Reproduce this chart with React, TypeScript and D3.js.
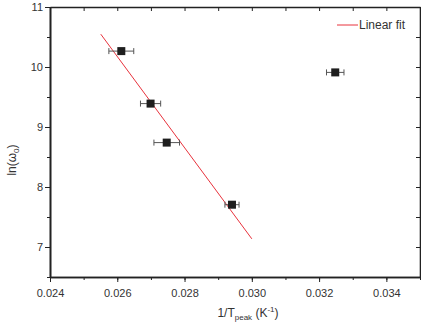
import React, { useEffect, useRef } from "react";
import * as d3 from "d3";

// measured points: 1/Tpeak, ln(omega0), x error
const invT = [0.02612, 0.02699, 0.02747, 0.02941, 0.03248];
const lnOmega = [10.265, 9.39, 8.74, 7.705, 9.91];
const xErr = [0.00037, 0.0003, 0.00038, 0.00021, 0.00026];

// linear fit segment ends
const fitX = [0.02551, 0.0300];
const fitY = [10.547, 7.136];

const xTicks = [0.024, 0.026, 0.028, 0.03, 0.032, 0.034];
const yTicks = [7, 8, 9, 10, 11];

const W = 421;
const H = 322;
const margin = { top: 7, right: 1, bottom: 45, left: 50 };

const App = () => {
  const svgRef = useRef<SVGSVGElement>(null);

  useEffect(() => {
    const svg = d3.select(svgRef.current);
    svg.selectAll("*").remove();
    const font = "'Liberation Sans', Arial, sans-serif";

    const x = d3.scaleLinear().domain([0.024, 0.035]).range([margin.left, W - margin.right]);
    const y = d3.scaleLinear().domain([6.5, 11]).range([H - margin.bottom, margin.top]);
    const x0 = x.range()[0], x1 = x.range()[1];
    const y0 = y.range()[0], y1 = y.range()[1];

    const minorX = d3.range(0.024, 0.03501, 0.001);
    const minorY = d3.range(6.5, 11.01, 0.5);

    // bottom axis, ticks outward
    const bottom = svg.append("g").attr("transform", `translate(0,${y0})`);
    bottom.call(d3.axisBottom(x).tickValues(minorX).tickSize(3).tickFormat(() => "").tickSizeOuter(0));
    bottom.append("g").call(
      d3.axisBottom(x).tickValues(xTicks).tickSize(5).tickSizeOuter(0)
        .tickFormat(d3.format(".3f") as any)
    );

    // left axis, ticks outward
    const left = svg.append("g").attr("transform", `translate(${x0},0)`);
    left.call(d3.axisLeft(y).tickValues(minorY).tickSize(3).tickFormat(() => "").tickSizeOuter(0));
    left.append("g").call(
      d3.axisLeft(y).tickValues(yTicks).tickSize(5).tickSizeOuter(0).tickFormat(d3.format("d") as any)
    );

    // top & right axes, ticks inward
    const top = svg.append("g").attr("transform", `translate(0,${y1})`);
    top.call(d3.axisBottom(x).tickValues(minorX).tickSize(4).tickFormat(() => "").tickSizeOuter(0));
    const right = svg.append("g").attr("transform", `translate(${x1},0)`);
    right.call(d3.axisLeft(y).tickValues(minorY).tickSize(4).tickFormat(() => "").tickSizeOuter(0));

    svg.selectAll(".domain").attr("stroke", "#222").attr("stroke-width", 1.6);
    svg.selectAll(".tick line").attr("stroke", "#222").attr("stroke-width", 1);
    svg.selectAll(".tick text")
      .style("font-family", font)
      .style("font-size", "11px")
      .attr("fill", "#333");
    bottom.selectAll(".tick text").attr("dy", "1.05em");
    left.selectAll(".tick text").attr("x", -7);

    // fit line
    const fitPts = fitX.map((d, i) => [d, fitY[i]] as [number, number]);
    svg.append("path")
      .attr("d", d3.line<[number, number]>().x(d => x(d[0])).y(d => y(d[1]))(fitPts))
      .attr("stroke", "#e8323c")
      .attr("stroke-width", 1)
      .attr("fill", "none");

    // error bars
    const pts = invT.map((d, i) => ({ x: d, y: lnOmega[i], e: xErr[i] }));
    const eb = svg.append("g").attr("stroke", "#555").attr("stroke-width", 1);
    pts.forEach(p => {
      const cy = y(p.y);
      eb.append("line").attr("x1", x(p.x - p.e)).attr("x2", x(p.x + p.e)).attr("y1", cy).attr("y2", cy);
      eb.append("line").attr("x1", x(p.x - p.e)).attr("x2", x(p.x - p.e)).attr("y1", cy - 3).attr("y2", cy + 3);
      eb.append("line").attr("x1", x(p.x + p.e)).attr("x2", x(p.x + p.e)).attr("y1", cy - 3).attr("y2", cy + 3);
    });

    // markers
    svg.selectAll("rect.pt")
      .data(pts)
      .enter()
      .append("rect")
      .attr("class", "pt")
      .attr("x", d => x(d.x) - 4)
      .attr("y", d => y(d.y) - 4)
      .attr("width", 8)
      .attr("height", 8)
      .attr("fill", "#1e1e1e");

    // legend
    svg.append("line")
      .attr("x1", 337).attr("x2", 358).attr("y1", 25).attr("y2", 25)
      .attr("stroke", "#e8323c").attr("stroke-width", 1);
    svg.append("text")
      .attr("x", 359).attr("y", 29)
      .style("font-family", font).style("font-size", "12px").attr("fill", "#333")
      .text("Linear fit");

    // x label
    const xl = svg.append("text")
      .attr("x", (x0 + x1) / 2 + 13).attr("y", 317)
      .attr("text-anchor", "middle")
      .style("font-family", font).style("font-size", "12px").attr("fill", "#333");
    xl.append("tspan").text("1/T");
    xl.append("tspan").attr("dy", 3).style("font-size", "8px").text("peak");
    xl.append("tspan").attr("dy", -3).text("  (K");
    xl.append("tspan").attr("dy", -5).style("font-size", "8px").text("-1");
    xl.append("tspan").attr("dy", 5).text(")");

    // y label
    const yl = svg.append("text")
      .attr("transform", `translate(16,${(y0 + y1) / 2 + 18}) rotate(-90)`)
      .attr("text-anchor", "middle")
      .style("font-family", font).style("font-size", "12px").attr("fill", "#333");
    yl.append("tspan").text("ln(ω");
    yl.append("tspan").attr("dy", 3).style("font-size", "8px").text("0");
    yl.append("tspan").attr("dy", -3).text(")");
  }, []);

  return (
    <svg
      ref={svgRef}
      width={W}
      height={H}
      style={{ position: "absolute", left: 0, top: 0, background: "#fff" }}
    />
  );
};

export default App;
